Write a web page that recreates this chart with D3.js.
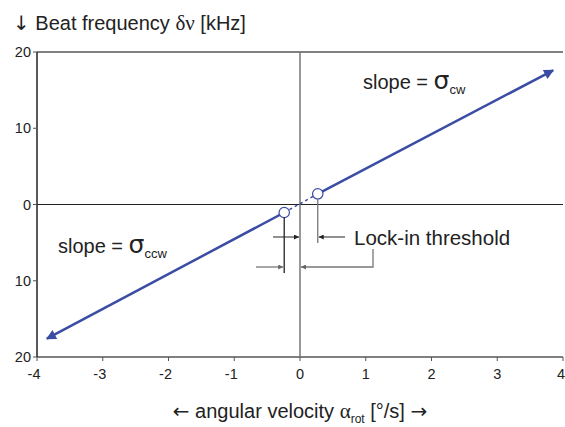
<!DOCTYPE html>
<html><head><meta charset="utf-8">
<script src="https://cdn.jsdelivr.net/npm/d3@7"></script>
<style>body{margin:0;background:#fff}svg{font-family:"Liberation Sans",Arial,sans-serif}</style>
</head><body>
<svg id="c" width="565" height="427"></svg>
<script>
const xTicks = [-4,-3,-2,-1,0,1,2,3,4];
const yTicks = [20,10,0,-10,-20];
const yTickLabels = ["20","10","0","10","20"];
const cwX = [0.27, 3.85], cwY = [1.4, 17.6];
const ccwX = [-3.85, -0.24], ccwY = [-17.6, -1.05];
const lockX = [-0.24, 0.27], lockY = [-1.05, 1.4];

const svg = d3.select("#c");
const x = d3.scaleLinear().domain([-4,4]).range([37,563]);
const y = d3.scaleLinear().domain([-20,20]).range([357,52]);
const blue = "#3a4ca3";

const defs = svg.append("defs");
defs.append("marker").attr("id","bh").attr("viewBox","0 0 10 10").attr("refX",9).attr("refY",5)
  .attr("markerWidth",14).attr("markerHeight",10).attr("markerUnits","userSpaceOnUse").attr("orient","auto")
  .append("path").attr("d","M0,0L10,5L0,10Z").attr("fill",blue);
defs.append("marker").attr("id","ah").attr("viewBox","0 0 10 10").attr("refX",10).attr("refY",5)
  .attr("markerWidth",8).attr("markerHeight",5).attr("markerUnits","userSpaceOnUse").attr("orient","auto")
  .append("path").attr("d","M0,0L10,5L0,10Z").attr("fill","#222");
defs.append("marker").attr("id","ahg").attr("viewBox","0 0 10 10").attr("refX",10).attr("refY",5)
  .attr("markerWidth",8).attr("markerHeight",5).attr("markerUnits","userSpaceOnUse").attr("orient","auto")
  .append("path").attr("d","M0,0L10,5L0,10Z").attr("fill","#666");

// frame lines
svg.append("line").attr("x1",x(-4)).attr("x2",x(4)).attr("y1",y(20)).attr("y2",y(20)).attr("stroke","#808080").attr("stroke-width",2);
svg.append("line").attr("x1",x(-4)).attr("x2",x(4)).attr("y1",y(-20)).attr("y2",y(-20)).attr("stroke","#555").attr("stroke-width",1.5);
svg.append("line").attr("x1",x(-4)).attr("x2",x(4)).attr("y1",y(0)).attr("y2",y(0)).attr("stroke","#222").attr("stroke-width",1);
svg.append("line").attr("x1",x(0)).attr("x2",x(0)).attr("y1",y(20)).attr("y2",y(-20)).attr("stroke","#777").attr("stroke-width",1.5);
svg.append("line").attr("x1",x(-4)).attr("x2",x(-4)).attr("y1",y(20)).attr("y2",y(-20)).attr("stroke","#222").attr("stroke-width",1.5);

// y ticks
const yg = svg.append("g");
yTicks.forEach((t,i)=>{
  yg.append("line").attr("x1",x(-4)-4).attr("x2",x(-4)).attr("y1",y(t)).attr("y2",y(t)).attr("stroke","#555");
  yg.append("text").attr("x",x(-4)-6).attr("y",y(t)).attr("dy","0.35em").attr("text-anchor","end")
    .attr("font-size",14.5).attr("fill","#222").text(yTickLabels[i]);
});
// x ticks
const xg = svg.append("g");
xTicks.forEach(t=>{
  xg.append("line").attr("x1",x(t)).attr("x2",x(t)).attr("y1",y(-20)).attr("y2",y(-20)+4).attr("stroke","#555");
  const lbl = xg.append("text").attr("y",y(-20)+22).attr("font-size",14.5).attr("fill","#222").text(t);
  if (t === 4) lbl.attr("x",565).attr("text-anchor","end");
  else lbl.attr("x",x(t)-(t<0?3:0)).attr("text-anchor","middle");
});

// lines
const line = d3.line().x(d=>x(d[0])).y(d=>y(d[1]));
svg.append("path").attr("d",line(d3.zip(cwX,cwY))).attr("stroke",blue).attr("stroke-width",2.5).attr("fill","none").attr("marker-end","url(#bh)");
svg.append("path").attr("d",line(d3.zip(ccwX,ccwY).reverse())).attr("stroke",blue).attr("stroke-width",2.5).attr("fill","none").attr("marker-end","url(#bh)");
svg.append("path").attr("d",line(d3.zip(lockX,lockY))).attr("stroke",blue).attr("stroke-width",1.5).attr("stroke-dasharray","3,3").attr("fill","none");
svg.selectAll("circle.p").data(d3.zip(lockX,lockY)).join("circle").attr("cx",d=>x(d[0])).attr("cy",d=>y(d[1])).attr("r",5.2)
  .attr("fill","#fff").attr("stroke",blue).attr("stroke-width",1.2);

// lock-in annotation
const ux = x(lockX[1]), lx = x(lockX[0]), zx = x(0);
const A = svg.append("g").attr("fill","none");
A.append("line").attr("x1",ux).attr("x2",ux).attr("y1",y(lockY[1])+6).attr("y2",243).attr("stroke","#777").attr("stroke-width",1.3);
A.append("line").attr("x1",345).attr("x2",ux+1).attr("y1",237).attr("y2",237).attr("stroke","#222").attr("marker-end","url(#ah)");
A.append("line").attr("x1",lx).attr("x2",lx).attr("y1",y(lockY[0])+5).attr("y2",273).attr("stroke","#222").attr("stroke-width",1.3);
A.append("line").attr("x1",273).attr("x2",zx-1).attr("y1",237).attr("y2",237).attr("stroke","#222").attr("marker-end","url(#ah)");
A.append("line").attr("x1",256).attr("x2",lx-1).attr("y1",267).attr("y2",267).attr("stroke","#777").attr("stroke-width",1.3).attr("marker-end","url(#ahg)");
A.append("path").attr("d",`M373,249V267H${zx+1}`).attr("stroke","#777").attr("stroke-width",1.3).attr("marker-end","url(#ahg)");

svg.append("text").attr("x",354).attr("y",245).attr("font-size",20.5).attr("fill","#222").text("Lock-in threshold");

// slope labels
const s1 = svg.append("text").attr("x",363).attr("y",89).attr("font-size",20).attr("fill","#222");
s1.append("tspan").text("slope = ");
s1.append("tspan").attr("font-family","'DejaVu Sans',sans-serif").attr("font-size",25).text("σ");
s1.append("tspan").attr("font-size",13).attr("dy",5).text("cw");
const s2 = svg.append("text").attr("x",58).attr("y",253).attr("font-size",20).attr("fill","#222");
s2.append("tspan").text("slope = ");
s2.append("tspan").attr("font-family","'DejaVu Sans',sans-serif").attr("font-size",25).text("σ");
s2.append("tspan").attr("font-size",13).attr("dy",5).text("ccw");

// axis titles
const yt = svg.append("text").attr("x",13).attr("y",30).attr("font-size",20).attr("fill","#222");
yt.append("tspan").attr("font-family","'DejaVu Sans',sans-serif").text("↓");
yt.append("tspan").text(" Beat frequency ");
yt.append("tspan").attr("font-family","'Liberation Serif',serif").attr("font-size",21).text("δν");
yt.append("tspan").text(" [kHz]");
const xt = svg.append("text").attr("x",300).attr("y",418).attr("text-anchor","middle").attr("font-size",20).attr("fill","#222");
xt.append("tspan").attr("font-family","'DejaVu Sans',sans-serif").text("←");
xt.append("tspan").text(" angular velocity ");
xt.append("tspan").attr("font-family","'Liberation Serif',serif").attr("font-size",21).text("α");
xt.append("tspan").attr("font-size",12).attr("dy",5).text("rot");
xt.append("tspan").attr("dy",-5).text(" [°/s] ");
xt.append("tspan").attr("font-family","'DejaVu Sans',sans-serif").text("→");
</script>
</body></html>
